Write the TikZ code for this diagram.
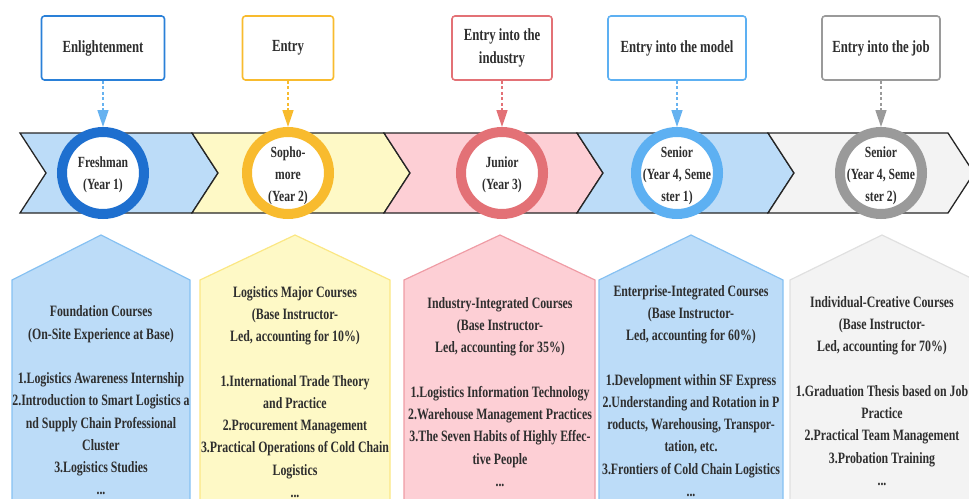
\documentclass[tikz,border=0pt]{standalone}
\usepackage{fontspec}
\setmainfont{Liberation Serif}[FakeStretch=0.75]
\usetikzlibrary{arrows.meta}
\definecolor{txt}{HTML}{2E2E2E}
\definecolor{chevline}{HTML}{262626}
\definecolor{bluefill}{HTML}{BCDCF8}
\definecolor{yelfill}{HTML}{FEF9C6}
\definecolor{pinkfill}{HTML}{FDCFD5}
\definecolor{grayfill}{HTML}{F3F3F3}
\definecolor{blueline}{HTML}{86C1F2}
\definecolor{yelline}{HTML}{FBE784}
\definecolor{pinkline}{HTML}{EF9CA5}
\definecolor{grayline}{HTML}{E0E0E0}
\definecolor{blueD}{HTML}{1E6FCF}
\definecolor{blueDbox}{HTML}{2A80D8}
\definecolor{blueA}{HTML}{66B2F0}
\definecolor{yelD}{HTML}{F8BB2E}
\definecolor{redD}{HTML}{E37176}
\definecolor{blueL}{HTML}{5DB0F2}
\definecolor{grayD}{HTML}{9A9A9A}
\newcommand{\tbfont}{\fontsize{17}{23.5}\selectfont\bfseries}
\newcommand{\cfont}{\fontsize{15.5}{22}\selectfont\bfseries}
\newcommand{\pfont}{\fontsize{15.8}{22.3}\selectfont\bfseries}
\newcommand{\chev}[3]{\draw[fill=#3, draw=chevline, line width=1.3pt] (#1,133) -- (#2,133) -- (#2+26,173) -- (#2,213) -- (#1,213) -- (#1+26,173) -- cycle;}
\newcommand{\penta}[5]{\draw[fill=#4, draw=#5, line width=1.2pt] (#1,280) -- (#2,235) -- (#3,280) -- (#3,510) -- (#1,510) -- cycle;}
\begin{document}
\begin{tikzpicture}[x=1pt,y=-1pt,
  topbox/.style={draw=#1, line width=1.6pt, rounded corners=3pt, fill=white,
    minimum height=64pt, inner sep=0pt, align=center, font=\tbfont, text=txt},
  ring/.style={circle, draw=#1, line width=10pt, fill=white, minimum size=82pt, inner sep=0pt},
  ctext/.style={align=center, font=\cfont, text=txt, inner sep=0pt},
  ptext/.style={align=center, font=\pfont, text=txt, inner sep=0pt},
  conn/.style={draw=#1, dash pattern=on 3pt off 2.5pt, line width=1.6pt,
    -{Triangle[length=17pt,width=11pt]}}]
\useasboundingbox (0,0) rectangle (969,498);
\clip (0,0) rectangle (969,498);
% chevron band
\chev{20}{192}{bluefill}
\chev{192}{384}{yelfill}
\chev{384}{577}{pinkfill}
\chev{577}{768}{bluefill}
\chev{768}{948}{grayfill}
% course boxes
\penta{12}{101}{190}{bluefill}{blueline}
\penta{200}{295}{390}{yelfill}{yelline}
\penta{404}{500}{595}{pinkfill}{pinkline}
\penta{599}{691}{783}{bluefill}{blueline}
\penta{790}{882}{975}{grayfill}{grayline}
% top boxes
\node[topbox=blueDbox, minimum width=123pt] (t1) at (103,48) {Enlightenment};
\node[topbox=yelD, minimum width=91pt] (t2) at (288,48) {Entry};
\node[topbox=redD, minimum width=100pt] (t3) at (502,48) {Entry into the\\industry};
\node[topbox=blueL, minimum width=138pt] (t4) at (677,48) {Entry into the model};
\node[topbox=grayD, minimum width=118pt] (t5) at (881,48) {Entry into the job};
% rings
\node[ring=blueD] (c1) at (103,173) {};
\node[ring=yelD] (c2) at (288,173) {};
\node[ring=redD] (c3) at (502,173) {};
\node[ring=blueL] (c4) at (677,173) {};
\node[ring=grayD] (c5) at (881,173) {};
\node[ctext] (c1t) at (103,175) {Freshman\\(Year 1)};
\node[ctext] (c2t) at (288,176) {Sopho-\\more\\(Year 2)};
\node[ctext] (c3t) at (502,175) {Junior\\(Year 3)};
\node[ctext] (c4t) at (677,176) {Senior\\(Year 4, Seme\\ster 1)};
\node[ctext] (c5t) at (881,176) {Senior\\(Year 4, Seme\\ster 2)};
% connectors
\draw[conn=blueA] (t1.south) -- (c1.north);
\draw[conn=yelD] (t2.south) -- (c2.north);
\draw[conn=redD] (t3.south) -- (c3.north);
\draw[conn=blueA] (t4.south) -- (c4.north);
\draw[conn=grayD] (t5.south) -- (c5.north);
% course texts
\node[ptext] (p1) at (101,400.5) {Foundation Courses\\(On-Site Experience at Base)\\[22pt]1.Logistics Awareness Internship\\2.Introduction to Smart Logistics a\\nd Supply Chain Professional\\Cluster\\3.Logistics Studies\\...};
\node[ptext] (p2) at (295,392) {Logistics Major Courses\\(Base Instructor-\\Led, accounting for 10\%)\\[22pt]1.International Trade Theory\\and Practice\\2.Procurement Management\\3.Practical Operations of Cold Chain\\Logistics\\...};
\node[ptext] (p3) at (500,392) {Industry-Integrated Courses\\(Base Instructor-\\Led, accounting for 35\%)\\[22pt]1.Logistics Information Technology\\2.Warehouse Management Practices\\3.The Seven Habits of Highly Effec-\\tive People\\...};
\node[ptext] (p4) at (691,391) {Enterprise-Integrated Courses\\(Base Instructor-\\Led, accounting for 60\%)\\[22pt]1.Development within SF Express\\2.Understanding and Rotation in P\\roducts, Warehousing, Transpor-\\tation, etc.\\3.Frontiers of Cold Chain Logistics\\...};
\node[ptext] (p5) at (882,391) {Individual-Creative Courses\\(Base Instructor-\\Led, accounting for 70\%)\\[22pt]1.Graduation Thesis based on Job\\Practice\\2.Practical Team Management\\3.Probation Training\\...};
\end{tikzpicture}
\end{document}
